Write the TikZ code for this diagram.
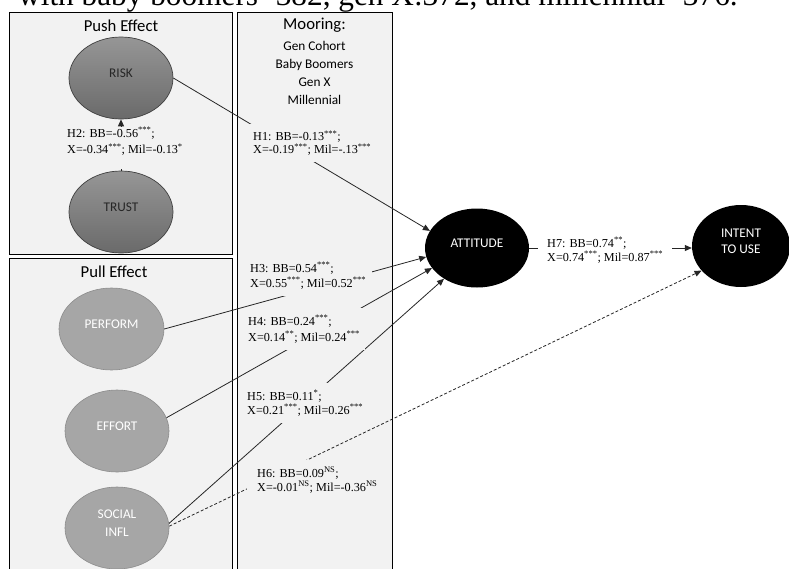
\documentclass[tikz,border=0pt]{standalone}
\usepackage{fontspec}
\setmainfont{Liberation Serif}
\newfontfamily\calibfont{Carlito}
\usetikzlibrary{arrows.meta,shapes.geometric}
\definecolor{boxbg}{HTML}{F2F2F2}
\definecolor{pullfill}{HTML}{A6A6A6}
\definecolor{pulledge}{HTML}{8C8C8C}
\definecolor{pushtop}{HTML}{969696}
\definecolor{pushbot}{HTML}{6A6A6A}
\definecolor{lncol}{HTML}{262626}
\begin{document}
\begin{tikzpicture}[x=1pt,y=-1pt,
  panel/.style={draw=black,line width=0.8pt,fill=boxbg},
  oval/.style={ellipse,inner sep=0pt,align=center,font=\calibfont\fontsize{13.3}{17}\selectfont,text depth=9pt},
  pushoval/.style={oval,draw=black!75,line width=0.7pt,top color=pushtop,bottom color=pushbot,text=black!85,minimum width=104pt,minimum height=82pt},
  pulloval/.style={oval,draw=pulledge,line width=0.6pt,fill=pullfill,text=white,minimum width=105pt,minimum height=82pt},
  outoval/.style={oval,fill=black,text=white,minimum width=104pt,minimum height=79pt},
  paneltitle/.style={font=\calibfont\fontsize{16.7}{20}\selectfont,inner sep=0pt},
  hlabel/.style={anchor=west,align=left,fill=boxbg,inner xsep=6pt,inner ysep=7pt},
  link/.style={draw=lncol,line width=0.8pt,-{Triangle[length=7pt,width=6pt]}},
  dashlink/.style={link,dash pattern=on 3pt off 2pt}
]
\useasboundingbox (0,0) rectangle (789,568);
\fill[white] (0,0) rectangle (789,568);

% cropped caption line at the top
\node[anchor=base west,font=\fontsize{31.3}{34}\selectfont,inner sep=0pt] (toptext) at (18,5) {with baby boomers=382, gen X:372, and millennial=376.};

% panels
\draw[panel] (9,12) rectangle (232,254);
\draw[panel] (9,258) rectangle (232,572);
\draw[panel] (237,12) rectangle (392,572);

\node[paneltitle] (pushtitle) at (121,26) {Push Effect};
\node[paneltitle] (pulltitle) at (114,272) {Pull Effect};
\node[paneltitle] (moortitle) at (314.5,25) {Mooring:};
\node[align=center,inner sep=0pt,font=\calibfont\fontsize{13.3}{18}\selectfont] (moorlist) at (314.5,73) {Gen Cohort\\Baby Boomers\\Gen X\\Millennial};

% constructs
\node[pushoval] (risk) at (121,78) {RISK};
\node[pushoval] (trust) at (121,212) {TRUST};
\node[pulloval] (perform) at (111.5,329) {PERFORM};
\node[pulloval,minimum width=104pt] (effort) at (117,431) {EFFORT};
\node[pulloval,minimum width=104pt,font=\calibfont\fontsize{13.3}{18}\selectfont] (social) at (117,528) {SOCIAL\\INFL};
\node[outoval] (attitude) at (477,248) {ATTITUDE};
\node[outoval,minimum width=98pt,minimum height=82pt,font=\calibfont\fontsize{13.3}{16}\selectfont] (intent) at (741,246) {INTENT\\TO USE};

% connectors
\draw[link] (trust.north) -- (risk.south);
\draw[link] (risk.east) -- (attitude.160);
\draw[link] (perform.east) -- (attitude.190);
\draw[link] (effort.15) -- (attitude.204);
\draw[link] (social.5) -- (attitude.223);
\draw[dashlink] (social.2) -- (intent.212);
\draw[link] (attitude.east) -- (attitude.east -| intent.west);

% path labels
\node[hlabel,anchor=north west,inner ysep=0pt,text depth=15pt,font=\fontsize{12.2}{16.5}\selectfont] (h2) at (61,127) {H2: BB=-0.56\textsuperscript{***};\\X=-0.34\textsuperscript{***}; Mil=-0.13\textsuperscript{*}};
\node[hlabel,font=\fontsize{12.2}{13}\selectfont] (h1) at (247,143) {H1: BB=-0.13\textsuperscript{***};\\X=-0.19\textsuperscript{***}; Mil=-.13\textsuperscript{***}};
\node[hlabel,font=\fontsize{12.2}{15}\selectfont] (h3) at (244,275.5) {H3: BB=0.54\textsuperscript{***};\\X=0.55\textsuperscript{***}; Mil=0.52\textsuperscript{***}};
\node[hlabel,inner xsep=5pt,font=\fontsize{12.2}{16}\selectfont] (h4) at (243,329) {H4: BB=0.24\textsuperscript{***};\\X=0.14\textsuperscript{**}; Mil=0.24\textsuperscript{***}};
\node[hlabel,font=\fontsize{12.2}{14}\selectfont] (h5) at (241,403) {H5: BB=0.11\textsuperscript{*};\\X=0.21\textsuperscript{***}; Mil=0.26\textsuperscript{***}};
\node[hlabel,inner xsep=10pt,font=\fontsize{12.2}{14}\selectfont] (h6) at (247,480) {H6: BB=0.09\textsuperscript{NS};\\X=-0.01\textsuperscript{NS}; Mil=-0.36\textsuperscript{NS}};
\node[hlabel,fill=white,inner xsep=9pt,font=\fontsize{12.2}{14}\selectfont] (h7) at (538,250) {H7: BB=0.74\textsuperscript{**};\\X=0.74\textsuperscript{***}; Mil=0.87\textsuperscript{***}};
\end{tikzpicture}
\end{document}
